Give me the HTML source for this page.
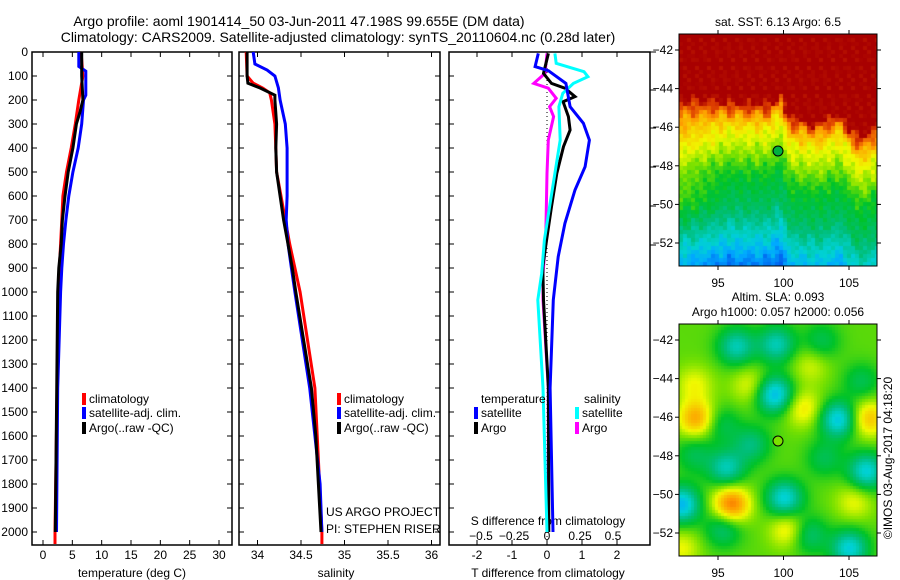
<!DOCTYPE html>
<html><head><meta charset="utf-8">
<style>
html,body{margin:0;padding:0;background:#fff;}
#root{position:relative;width:900px;height:580px;overflow:hidden;font-family:"Liberation Sans",sans-serif;}
canvas{position:absolute;}
svg text{font-family:"Liberation Sans",sans-serif;}
</style></head>
<body>
<div id="root">
<svg id="chart" width="900" height="580" style="position:absolute;left:0;top:0"></svg>
<canvas id="sst" width="198" height="232" style="left:679px;top:34px"></canvas>
<canvas id="sla" width="198" height="232" style="left:679px;top:324px"></canvas>
<svg id="maps" width="900" height="580" style="position:absolute;left:0;top:0"></svg>
</div>
<script>
// ---------- data ----------
const depthTicks=[0,100,200,300,400,500,600,700,800,900,1000,1100,1200,1300,1400,1500,1600,1700,1800,1900,2000];
const tempTicks=[0,5,10,15,20,25,30];
const salTicks=[34,34.5,35,35.5,36];
const tdiffTicks=[-2,-1,0,1,2];
const sdiffTicks=[-0.5,-0.25,0,0.25,0.5];

const tClimDepth=[0,100,200,300,400,500,600,700,800,900,1000,1400,2000,2050];
const tClim=[6.5,6.8,6.1,5.5,4.8,4.0,3.4,3.2,3.0,2.8,2.6,2.4,2.05,2.05];
const tSatDepth=[0,60,80,180,200,300,400,500,600,700,800,900,1000,1400,2000];
const tSat=[6.1,6.1,7.3,7.3,6.9,6.6,6.0,5.1,4.4,3.9,3.5,3.2,3.0,2.5,2.3];
const tArgoDepth=[0,100,200,250,300,400,500,600,700,800,900,1000,1500,2000];
const tArgo=[6.6,6.6,6.8,6.3,5.7,5.1,4.3,3.75,3.3,3.1,2.7,2.5,2.3,2.1];

const sClimDepth=[0,100,130,150,170,200,300,400,500,600,700,800,900,1000,1400,2000,2050];
const sClim=[33.87,33.88,33.95,34.06,34.14,34.16,34.20,34.21,34.22,34.27,34.32,34.37,34.43,34.49,34.66,34.74,34.74];
const sSatDepth=[0,50,75,100,150,200,300,400,600,700,800,900,1000,1400,1800,2000];
const sSat=[33.95,33.97,34.11,34.20,34.24,34.26,34.32,34.34,34.34,34.33,34.35,34.39,34.43,34.60,34.72,34.74];
const sArgoDepth=[0,100,130,150,180,200,300,400,500,600,700,800,900,1000,1400,1600,2000];
const sArgo=[33.88,33.88,33.89,34.03,34.20,34.20,34.22,34.21,34.22,34.26,34.30,34.35,34.40,34.44,34.62,34.67,34.73];

const dTSatDepth=[6,61,78,131,228,297,367,478,575,714,853,1033,1400,2000];
const dTSat=[-0.25,-0.34,0.04,0.54,0.66,1.04,1.21,1.09,0.8,0.51,0.32,0.18,0.09,0.17];
const dTArgoDepth=[6,89,131,151,186,207,269,325,394,506,644,783,894,1033,1400,2000];
const dTArgo=[0.04,-0.1,0.13,0.51,0.8,0.46,0.61,0.66,0.47,0.28,0.13,-0.01,-0.12,-0.1,0.04,0.05];
const dSSatDepth=[6,47,82,103,131,172,228,367,506,644,783,922,1033,1400,2000];
const dSSat=[0.06,0.07,0.28,0.31,0.2,0.12,0.09,0.1,0.06,0.02,-0.02,-0.04,-0.07,-0.03,0.0];
const dSArgoDepth=[6,89,131,151,193,228,269,367,506,783,922,1033,1400,2000];
const dSArgo=[0,-0.015,-0.10,0.01,0.07,0.02,0.05,0.01,0.0,-0.01,-0.03,-0.03,0.01,0.01];

// ---------- axes ----------
const Y=d=>52+d*0.24;
const XT=t=>43+t*5.867;
const XS=s=>257.5+(s-34)*87;
const XDT=v=>547+v*35;
const XDS=v=>547+v*132;
const TOP=52,BOT=545;
const panels=[{l:32,r:232},{l:239,r:440},{l:449,r:650}];

const svg=document.getElementById('chart');
const NS='http://www.w3.org/2000/svg';
function mk(tag,attrs,parent){const e=document.createElementNS(NS,tag);for(const k in attrs)e.setAttribute(k,attrs[k]);(parent||svg).appendChild(e);return e;}
function txt(x,y,s,size,anchor,parent){const t=mk('text',{x:x,y:y,'font-size':size||12,'text-anchor':anchor||'start',fill:'#000'},parent);t.textContent=s;return t;}

let t1=txt(299,26,'Argo profile: aoml 1901414_50 03-Jun-2011 47.198S 99.655E (DM data)',14,'middle');


let t2=txt(338,42,'Climatology: CARS2009. Satellite-adjusted climatology: synTS_20110604.nc (0.28d later)',14,'middle');



panels.forEach((p,i)=>{
  const r=mk('rect',{x:p.l,y:TOP,width:p.r-p.l,height:BOT-TOP,fill:'none',stroke:'#000','stroke-width':1.5});
  
  
  depthTicks.forEach(d=>{
    mk('line',{x1:p.l,x2:p.l+5,y1:Y(d),y2:Y(d),stroke:'#000'});
    if(i<2) mk('line',{x1:p.r-5,x2:p.r,y1:Y(d),y2:Y(d),stroke:'#000'});
  });
});
depthTicks.forEach(d=>{
  const t=txt(28,Y(d)+4,String(d),12,'end');
  
  
});
function xticks(vals,fx,ly){
  vals.forEach(v=>{
    const x=fx(v);
    mk('line',{x1:x,x2:x,y1:BOT-5,y2:BOT,stroke:'#000'});
    mk('line',{x1:x,x2:x,y1:TOP,y2:TOP+5,stroke:'#000'});
    const t=txt(x,ly,String(v),12,'middle');
    
    
  });
}
xticks(tempTicks,XT,559);
xticks(salTicks,XS,559);
xticks(tdiffTicks,XDT,559);
sdiffTicks.forEach(v=>{
  const t=txt(XDS(v),540,String(v).replace('-','−'),12,'middle');
  
  
});
[52,90,128,167,206,245].forEach(y=>mk('line',{x1:650,x2:656,y1:y,y2:y,stroke:'#000'}));
mk('line',{x1:XDT(0),x2:XDT(0),y1:TOP,y2:BOT,stroke:'#000','stroke-dasharray':'1,3'});

let a1=txt(132,577,'temperature (deg C)',12,'middle');
let a2=txt(336,577,'salinity',12,'middle');
let a3=txt(548,577,'T difference from climatology',12,'middle');
let a4=txt(548,525,'S difference from climatology',12,'middle');
let pj=txt(326,516,'US ARGO PROJECT',12);
let pi=txt(326,533,'PI: STEPHEN RISER',12);

function series(vals,depths,fx,color,name){
  const pts=vals.map((v,k)=>fx(v).toFixed(1)+','+Y(depths[k]).toFixed(1)).join(' ');
  const pl=mk('polyline',{points:pts,fill:'none',stroke:color,'stroke-width':3,'stroke-linejoin':'miter'});
  
  
}
series(tClim,tClimDepth,XT,'#f00','temp-climatology-line');
series(tSat,tSatDepth,XT,'#00f','temp-satellite-line');
series(tArgo,tArgoDepth,XT,'#000','temp-argo-line');
series(sClim,sClimDepth,XS,'#f00','sal-climatology-line');
series(sSat,sSatDepth,XS,'#00f','sal-satellite-line');
series(sArgo,sArgoDepth,XS,'#000','sal-argo-line');
series(dSArgo,dSArgoDepth,XDS,'#f0f','sdiff-argo-line');
series(dTArgo,dTArgoDepth,XDT,'#000','tdiff-argo-line');
series(dSSat,dSSatDepth,XDS,'#0ff','sdiff-satellite-line');
series(dTSat,dTSatDepth,XDT,'#00f','tdiff-satellite-line');

function legend(x,y,color,label){
  const g=mk('g',{});
  
  
  mk('rect',{x:x,y:y-10,width:4,height:12,fill:color},g);
  txt(x+7,y,label,12,'start',g);
}
legend(82,403,'#f00','climatology');legend(82,417,'#00f','satellite-adj. clim.');legend(82,432,'#000','Argo(..raw -QC)');
legend(337,403,'#f00','climatology');legend(337,417,'#00f','satellite-adj. clim.');legend(337,432,'#000','Argo(..raw -QC)');
let lt=txt(481,403,'temperature',12);
let ls=txt(584,403,'salinity',12);
legend(474,417,'#00f','satellite');legend(474,432,'#000','Argo');
legend(575,417,'#0ff','satellite');legend(575,432,'#f0f','Argo');

// ---------- maps ----------
const stops=[[0,0,0,140],[0.12,0,60,230],[0.25,0,170,255],[0.33,0,210,210],[0.42,0,190,120],[0.5,0,195,40],[0.58,120,225,0],[0.66,240,250,0],[0.8,255,150,0],[0.9,220,60,0],[1,168,0,0]];
function cmap(v){v=Math.max(0,Math.min(1,v));for(let i=1;i<stops.length;i++){if(v<=stops[i][0]){const a=stops[i-1],b=stops[i],f=(v-a[0])/(b[0]-a[0]);return 'rgb('+[1,2,3].map(k=>Math.round(a[k]+(b[k]-a[k])*f)).join(',')+')';}}return 'rgb(168,0,0)';}
function interp(xs,ys,x){if(x<=xs[0])return ys[0];for(let i=1;i<xs.length;i++)if(x<=xs[i]){const f=(x-xs[i-1])/(xs[i]-xs[i-1]);return ys[i-1]+(ys[i]-ys[i-1])*f;}return ys[ys.length-1];}
const bX=[0,0.15,0.3,0.45,0.5,0.55,0.7,0.8,0.9,1];
const bY=[0.26,0.28,0.3,0.3,0.25,0.36,0.38,0.34,0.45,0.4];
const dD=[0,0.04,0.1,0.2,0.3,0.45,0.6,0.7];
const dV=[0.93,0.8,0.68,0.6,0.5,0.44,0.3,0.18];
(function(){
  const c=document.getElementById('sst').getContext('2d');
  for(let y=0;y<232;y+=4)for(let x=0;x<198;x+=4){
    const xn=x/198,yn=y/232;
    const b=interp(bX,bY,xn)+0.03*Math.sin(x*0.35)*Math.cos(y*0.2);
    let v=yn<b?1:interp(dD,dV,yn-b);
    if(xn<0.25&&yn>b)v+=0.1*(1-xn/0.25);
    v+=0.03*Math.sin(x*0.5+y*0.3)*Math.sin(y*0.45);
    c.fillStyle=cmap(v);c.fillRect(x,y,4,4);
  }
})();
const blobs=[[56,21,-0.2],[96,19,-0.2],[94,69,-0.28],[71,119,-0.14],[46,143,-0.2],[158,94,-0.26],[186,146,-0.24],[104,173,-0.24],[144,133,-0.1],[43,203,-0.14],[128,209,-0.14],[169,223,-0.24],[1,179,-0.28],[181,56,-0.1],[141,16,-0.1],[14,129,-0.1],[41,99,-0.1],
[16,93,0.22],[51,179,0.28],[123,83,0.13],[188,93,0.18],[108,204,0.14],[174,176,0.1],[1,223,0.1],[14,59,0.1],[130,40,0.08],[70,60,0.1]];
(function(){
  const c=document.getElementById('sla').getContext('2d');
  for(let y=0;y<232;y+=3)for(let x=0;x<198;x+=3){
    let v=0.56;
    blobs.forEach(b=>{const d2=(x-b[0])**2+(y-b[1])**2;v+=b[2]*Math.exp(-d2/(2*13*13));});
    c.fillStyle=cmap(v);c.fillRect(x,y,3,3);
  }
})();
const ms=document.getElementById('maps');
function mm(tag,attrs){return mk(tag,attrs,ms);}
const lonTicks=[95,100,105];
const latTicks=[-42,-44,-46,-48,-50,-52];
const LX=l=>718+(l-95)*13.1;
const LY=l=>50+(-42-l)*19.3;
[34,324].forEach((top,i)=>{
  const fr=mm('rect',{x:679,y:top,width:198,height:232,fill:'none',stroke:'#000','stroke-width':1});
  
  
  lonTicks.forEach(l=>{mm('line',{x1:LX(l),x2:LX(l),y1:top+232,y2:top+236,stroke:'#000'});mm('line',{x1:LX(l),x2:LX(l),y1:top-4,y2:top,stroke:'#000'});
    const t=txt(LX(l),top+253,String(l),12,'middle',ms);});
  latTicks.forEach(l=>{const y=LY(l)+top-34;mm('line',{x1:675,x2:679,y1:y,y2:y,stroke:'#000'});mm('line',{x1:877,x2:881,y1:y,y2:y,stroke:'#000'});
    const t=txt(673,y+4,String(l).replace('-','−'),12,'end',ms);});
  const cc=mm('circle',{cx:778,cy:top+117,r:5,fill:i==0?'#00b040':'#7be000',stroke:'#000','stroke-width':1});
  
  
});
let m1=txt(778,26,'sat. SST: 6.13 Argo: 6.5',12,'middle',ms);
let m2=txt(778,301,'Altim. SLA: 0.093',12,'middle',ms);
let m3=txt(778,316,'Argo h1000: 0.057 h2000: 0.056',12,'middle',ms);
let cr=txt(0,0,'©IMOS 03-Aug-2017 04:18:20',12,'middle',ms);
cr.setAttribute('transform','translate(892,458) rotate(-90)');


</script>
</body></html>
